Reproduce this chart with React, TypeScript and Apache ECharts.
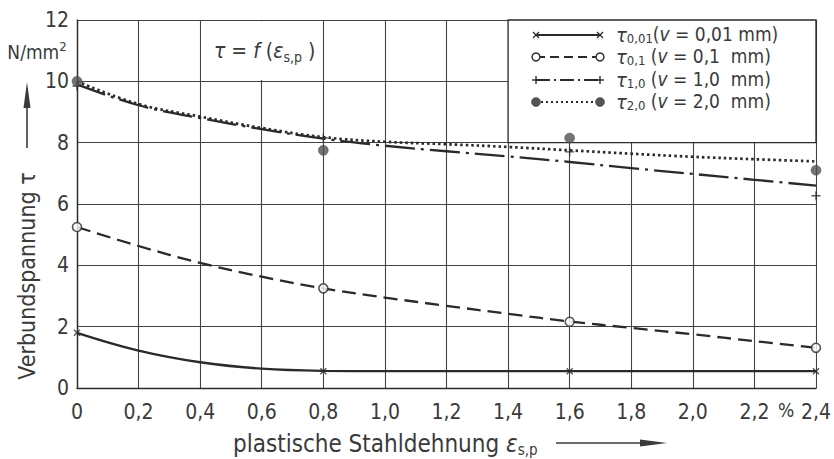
import React, { useEffect, useRef } from "react";
import * as echarts from "echarts";

// ---- data ----
const curveX = [0, 0.2, 0.4, 0.6, 0.8, 1.0, 1.2, 1.4, 1.6, 1.8, 2.0, 2.2, 2.4];
const tau001Curve = [1.8, 1.22, 0.84, 0.63, 0.56, 0.55, 0.55, 0.55, 0.55, 0.55, 0.55, 0.55, 0.55];
const tau01Curve = [5.25, 4.63, 4.08, 3.63, 3.25, 2.95, 2.68, 2.42, 2.17, 1.96, 1.75, 1.53, 1.31];
const tau10Curve = [9.9, 9.22, 8.8, 8.44, 8.13, 7.9, 7.72, 7.55, 7.37, 7.17, 6.98, 6.79, 6.6];
const tau20Curve = [10.0, 9.26, 8.85, 8.48, 8.18, 8.03, 7.95, 7.86, 7.75, 7.64, 7.54, 7.46, 7.39];

const markerX = [0, 0.8, 1.6, 2.4];
const tau001Pts = [1.8, 0.55, 0.55, 0.55];
const tau01Pts = [5.25, 3.25, 2.16, 1.31];
const tau10Pts = [9.85, 8.15, 7.7, 6.27];
const tau20Pts = [10.0, 7.75, 8.15, 7.1];

const xTicks = [0, 0.2, 0.4, 0.6, 0.8, 1.0, 1.2, 1.4, 1.6, 1.8, 2.0, 2.2, 2.4];
const yTicks = [0, 2, 4, 6, 8, 10, 12];

const legendSubs = ["0,01", "0,1", "1,0", "2,0"];
const legendPre = ["(", " (", " (", " ("];
const legendPost = [" = 0,01 mm)", " = 0,1  mm)", " = 1,0  mm)", " = 2,0  mm)"];

const FONT = '"Liberation Sans Narrow", "DejaVu Sans Condensed", "Roboto Condensed", "Liberation Sans", sans-serif';
const INK = "#2a2a2a";
const TXT = "#3a3a3a";

const pairs = (xs: number[], ys: number[]) => xs.map((x, i) => [x, ys[i]]);

const fmtX = (v: number) => (v === 0 ? "0" : v.toFixed(1).replace(".", ","));

const X_SYM = "path://M0,0L10,10M10,0L0,10";
const P_SYM = "path://M5,0L5,10M0,5L10,5";

export default function App() {
  const ref = useRef<HTMLDivElement>(null);
  useEffect(() => {
    if (!ref.current) return;
    const chart = echarts.init(ref.current, undefined, { renderer: "svg" });

    const lineBase = (data: number[][], type: any, width: number) => ({
      type: "line",
      data,
      smooth: 0.4,
      showSymbol: false,
      symbol: "none",
      z: 2,
      lineStyle: { color: INK, width, type },
      silent: true,
    });

    const scatterBase = (data: number[][], symbol: string, size: number, itemStyle: any) => ({
      type: "scatter",
      data,
      symbol,
      symbolSize: size,
      clip: false,
      z: 4,
      itemStyle,
      silent: true,
    });

    // legend graphic
    const legendRowsY = [35, 57, 80, 102];
    const lx0 = 536;
    const lx1 = 600;
    const legendGraphics: any[] = [];
    const dashes: any[] = [null, [9, 5], [14, 4, 2, 4], [2, 3]];
    const richBase = {
      t: { fontFamily: FONT, fontSize: 20, fill: TXT, fontStyle: "italic", verticalAlign: "top", lineHeight: 19 },
      s: { fontFamily: FONT, fontSize: 13, fill: TXT, padding: [8, 0, 0, 0], lineHeight: 11 },
      m: { fontFamily: FONT, fontSize: 19, fill: TXT, verticalAlign: "top", lineHeight: 19 },
      i: { fontFamily: FONT, fontSize: 19, fill: TXT, fontStyle: "italic", verticalAlign: "top", lineHeight: 19 },
    };
    legendRowsY.forEach((y, i) => {
      legendGraphics.push({
        type: "line",
        shape: { x1: lx0, y1: y, x2: lx1, y2: y },
        style: { stroke: INK, lineWidth: i === 3 ? 2.2 : 1.8, lineDash: dashes[i] || undefined },
        z: 10,
      });
      [lx0, lx1].forEach((cx) => {
        if (i === 0) {
          legendGraphics.push({
            type: "polyline",
            shape: { points: [[cx - 3, y - 3], [cx + 3, y + 3]] },
            style: { stroke: INK, lineWidth: 1.3, fill: null },
            z: 11,
          });
          legendGraphics.push({
            type: "polyline",
            shape: { points: [[cx - 3, y + 3], [cx + 3, y - 3]] },
            style: { stroke: INK, lineWidth: 1.3, fill: null },
            z: 11,
          });
        } else if (i === 1) {
          legendGraphics.push({
            type: "circle",
            shape: { cx, cy: y, r: 4 },
            style: { fill: "#fff", stroke: INK, lineWidth: 1.4 },
            z: 11,
          });
        } else if (i === 2) {
          legendGraphics.push({
            type: "polyline",
            shape: { points: [[cx - 4, y], [cx + 4, y]] },
            style: { stroke: INK, lineWidth: 1.4, fill: null },
            z: 11,
          });
          legendGraphics.push({
            type: "polyline",
            shape: { points: [[cx, y - 4], [cx, y + 4]] },
            style: { stroke: INK, lineWidth: 1.4, fill: null },
            z: 11,
          });
        } else {
          legendGraphics.push({
            type: "circle",
            shape: { cx, cy: y, r: 4.5 },
            style: { fill: "#555", stroke: "#444", lineWidth: 0.5 },
            z: 11,
          });
        }
      });
      legendGraphics.push({
        type: "text",
        x: 616,
        y: y - 1,
        z: 11,
        style: {
          text: `{t|τ}{s|${legendSubs[i]}}{m|${legendPre[i]}}{i|v}{m|${legendPost[i]}}`,
          verticalAlign: "middle",
          align: "left",
          rich: richBase,
        },
      });
    });

    const option: any = {
      animation: false,
      backgroundColor: "#ffffff",
      grid: { left: 77, right: 16, top: 20, bottom: 71, containLabel: false },
      xAxis: {
        type: "value",
        min: 0,
        max: 2.4,
        interval: 0.2,
        axisLine: { show: true, onZero: false, lineStyle: { color: INK, width: 1.4 } },
        axisTick: { show: false },
        splitLine: { show: true, lineStyle: { color: "#444", width: 1.1 } },
        axisLabel: {
          margin: 13,
          fontFamily: FONT,
          fontSize: 21,
          color: TXT,
          formatter: (v: number) => fmtX(v),
          customValues: xTicks,
        },
      },
      yAxis: {
        type: "value",
        min: 0,
        max: 12,
        interval: 2,
        axisLine: { show: true, lineStyle: { color: INK, width: 1.4 } },
        axisTick: { show: false },
        splitLine: { show: true, lineStyle: { color: "#444", width: 1.1 } },
        axisLabel: {
          margin: 8,
          fontFamily: FONT,
          fontSize: 21,
          color: TXT,
          customValues: yTicks,
        },
      },
      graphic: [
        // y axis title
        {
          type: "text",
          x: 27,
          y: 276,
          rotation: Math.PI / 2,
          style: {
            text: "Verbundspannung τ",
            fontFamily: FONT,
            fontSize: 23,
            fill: TXT,
            align: "center",
            verticalAlign: "middle",
          },
        },
        {
          type: "line",
          shape: { x1: 27, y1: 148, x2: 27, y2: 100 },
          style: { stroke: TXT, lineWidth: 1.6 },
        },
        {
          type: "polygon",
          shape: { points: [[27, 82], [23.5, 108], [30.5, 108]] },
          style: { fill: TXT },
        },
        {
          type: "text",
          x: 37,
          y: 52,
          style: {
            text: "N/mm{sup|2}",
            fontFamily: FONT,
            fontSize: 19,
            fill: TXT,
            align: "center",
            verticalAlign: "middle",
            rich: { sup: { fontFamily: FONT, fontSize: 13, fill: TXT, padding: [0, 0, 12, 0] } },
          },
        },
        // x axis title
        {
          type: "text",
          x: 233,
          y: 444,
          style: {
            text: "{m|plastische Stahldehnung }{e|ε}{s|s,p}",
            align: "left",
            verticalAlign: "middle",
            rich: {
              m: { fontFamily: FONT, fontSize: 24, fill: TXT, verticalAlign: "top", lineHeight: 24 },
              e: { fontFamily: FONT, fontSize: 24, fill: TXT, fontStyle: "italic", verticalAlign: "top", lineHeight: 24 },
              s: { fontFamily: FONT, fontSize: 15, fill: TXT, padding: [12, 0, 0, 0], lineHeight: 15 },
            },
          },
        },
        {
          type: "line",
          shape: { x1: 556, y1: 443, x2: 645, y2: 443 },
          style: { stroke: TXT, lineWidth: 1.6 },
        },
        {
          type: "polygon",
          shape: { points: [[667, 443], [640, 439.5], [640, 446.5]] },
          style: { fill: TXT },
        },
        // percent sign
        {
          type: "text",
          x: 786,
          y: 410,
          style: {
            text: "%",
            fontFamily: FONT,
            fontSize: 19,
            fill: TXT,
            align: "center",
            verticalAlign: "middle",
          },
        },
        // function annotation
        {
          type: "text",
          x: 214,
          y: 51,
          z: 10,
          style: {
            text: "{i|τ}{m| = }{i|f}{m| (}{i|ε}{s|s,p}{m| )}",
            align: "left",
            verticalAlign: "middle",
            rich: {
              m: { fontFamily: FONT, fontSize: 21, fill: TXT, verticalAlign: "top", lineHeight: 22 },
              i: { fontFamily: FONT, fontSize: 21, fill: TXT, fontStyle: "italic", verticalAlign: "top", lineHeight: 22 },
              s: { fontFamily: FONT, fontSize: 14, fill: TXT, padding: [12, 0, 0, 0], lineHeight: 14 },
            },
          },
        },
        ...legendGraphics,
      ],
      series: [
        // white boxes (legend frame and annotation area)
        {
          type: "line",
          data: [],
          z: 1,
          silent: true,
          markArea: {
            silent: true,
            itemStyle: { color: "#ffffff", borderColor: INK, borderWidth: 1.3 },
            data: [[{ coord: [1.4, 8] }, { coord: [2.4, 12] }]],
          },
        },
        {
          type: "line",
          data: [],
          z: 1,
          silent: true,
          markArea: {
            silent: true,
            itemStyle: { color: "#ffffff", borderWidth: 0 },
            data: [[{ coord: [0.404, 10.04] }, { coord: [0.796, 11.96] }]],
          },
        },
        lineBase(pairs(curveX, tau001Curve), "solid", 2.3),
        lineBase(pairs(curveX, tau01Curve), [14, 7], 2.3),
        lineBase(pairs(curveX, tau10Curve), [30, 6, 3, 6], 2.3),
        lineBase(pairs(curveX, tau20Curve), [2.5, 3], 2.7),
        scatterBase(pairs(markerX, tau001Pts), X_SYM, 6, { color: "none", borderColor: INK, borderWidth: 1.4 }),
        scatterBase(pairs(markerX, tau01Pts), "circle", 9, { color: "#ffffff", borderColor: INK, borderWidth: 1.6 }),
        scatterBase(pairs(markerX, tau10Pts), P_SYM, 9, { color: "none", borderColor: INK, borderWidth: 1.4 }),
        scatterBase(pairs(markerX, tau20Pts), "circle", 10, { color: "#505050", borderColor: "#444", borderWidth: 0.5 }),
      ],
    };
    chart.setOption(option);
    return () => chart.dispose();
  }, []);

  return (
    <div
      ref={ref}
      style={{ position: "fixed", left: 0, top: 0, width: 834, height: 459, background: "#fff" }}
    />
  );
}
